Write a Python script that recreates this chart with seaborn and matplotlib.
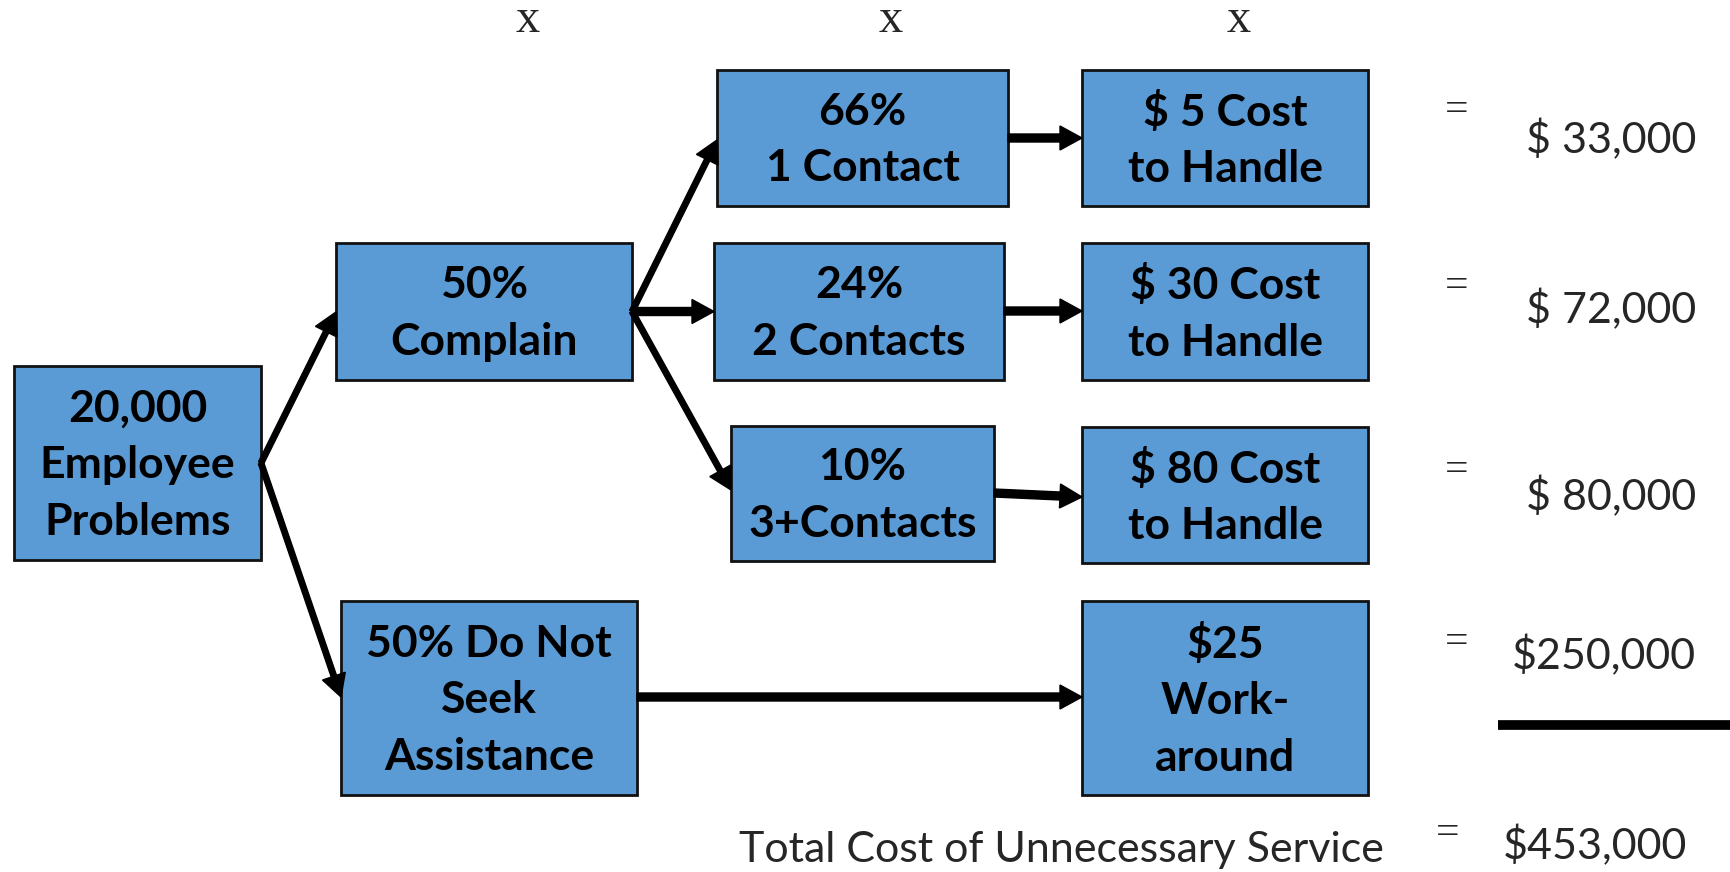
import matplotlib
matplotlib.use("Agg")
import matplotlib.pyplot as plt
from matplotlib.patches import Rectangle
import seaborn as sns

sns.set_theme(style="white")
plt.rcParams["font.family"] = ["Lato", "DejaVu Sans"]
plt.rcParams["text.parse_math"] = False

# data
problem_count = 20000
complain_pct = 50
no_seek_pct = 50
contact_pcts = [66, 24, 10]
contact_names = ["1 Contact", "2 Contacts", "3+Contacts"]
handle_costs = [5, 30, 80]
workaround_cost = 25
row_totals = ["$ 33,000", "$ 72,000", "$ 80,000", "$250,000"]
grand_total = "$453,000"
total_caption = "Total Cost of Unnecessary Service"

BLUE = "#5B9BD5"

# layout (pixel units, y downwards)
root_box = (14, 366, 247, 194)
complain_box = (336, 243, 296, 137)
noseek_box = (341, 601, 296, 194)
contact_boxes = [(717, 70, 291, 136), (714, 243, 290, 137), (731, 426, 263, 135)]
cost_boxes = [(1082, 70, 286, 136), (1082, 243, 286, 137), (1082, 427, 286, 136)]
work_box = (1082, 601, 286, 194)
total_y = [140, 310, 497, 656]
eq_y = [111, 287, 471, 643]

fig = plt.figure(figsize=(17.3, 8.72), dpi=100)
ax = fig.add_axes([0, 0, 1, 1])
ax.set_xlim(0, 1730)
ax.set_ylim(872, 0)
ax.axis("off")


def box(b, label):
    x, y, w, h = b
    ax.add_patch(Rectangle((x, y), w, h, facecolor=BLUE, edgecolor="#111111", lw=2, zorder=2))
    ax.text(x + w / 2, y + h / 2 + 2, label, ha="center", va="center", fontsize=32,
            fontweight="bold", linespacing=1.5, color="black", zorder=3)


def arrow(x0, y0, x1, y1, width=5.5):
    ax.arrow(x0, y0, x1 - x0, y1 - y0, width=width, head_width=24, head_length=22,
             length_includes_head=True, color="black", zorder=4)


box(root_box, f"{problem_count:,}\nEmployee\nProblems")
box(complain_box, f"{complain_pct}%\nComplain")
box(noseek_box, f"{no_seek_pct}% Do Not\nSeek\nAssistance")
for b, p, n in zip(contact_boxes, contact_pcts, contact_names):
    box(b, f"{p}%\n{n}")
for b, c in zip(cost_boxes, handle_costs):
    box(b, f"$ {c} Cost\nto Handle")
box(work_box, f"${workaround_cost}\nWork-\naround")

# arrows
rx = root_box[0] + root_box[2]
ry = root_box[1] + root_box[3] / 2
arrow(rx, ry, complain_box[0], 312)
arrow(rx, ry, noseek_box[0], 697)
cx = complain_box[0] + complain_box[2]
cy = complain_box[1] + complain_box[3] / 2
arrow(cx, cy, contact_boxes[0][0], 140)
arrow(cx, cy, contact_boxes[1][0], cy, width=8)
arrow(cx, cy, contact_boxes[2][0], 490)
arrow(1008, 138, 1082, 138, width=8)
arrow(1004, 311, 1082, 311, width=8)
arrow(994, 493, 1082, 497, width=8)
arrow(637, 697, 1082, 697, width=8)

# multiply signs
for xm in [528, 891, 1239]:
    ax.text(xm, 20, "x", ha="center", va="center", fontsize=35, family="Liberation Serif")

for yy in eq_y:
    ax.text(1457, yy, "=", ha="center", va="center", fontsize=30, family="Liberation Serif")
ax.text(1448, 834, "=", ha="center", va="center", fontsize=30, family="Liberation Serif")

for yy, t in zip(total_y, row_totals):
    ax.text(1696, yy, t, ha="right", va="center", fontsize=31)
ax.text(1687, 846, grand_total, ha="right", va="center", fontsize=31)
ax.text(1061, 850, total_caption, ha="center", va="center", fontsize=31)

ax.plot([1498, 1730], [725, 725], color="black", lw=7, solid_capstyle="butt")

fig.savefig("out.png", dpi=100, facecolor="white")
